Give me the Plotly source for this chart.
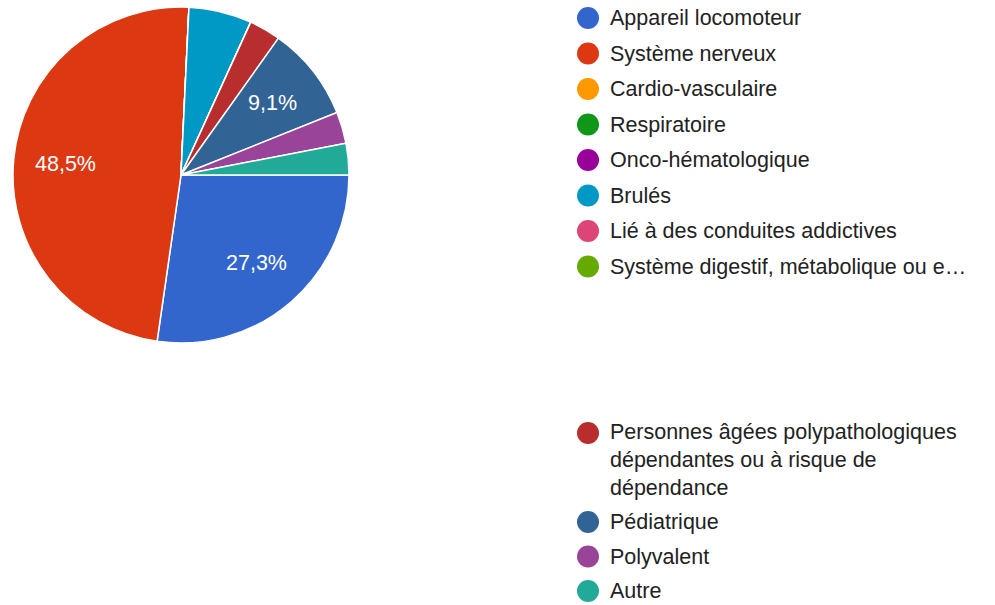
import math
import plotly.graph_objects as go

# ---- data ----
categories = [
    "Appareil locomoteur",
    "Système nerveux",
    "Cardio-vasculaire",
    "Respiratoire",
    "Onco-hématologique",
    "Brulés",
    "Lié à des conduites addictives",
    "Système digestif, métabolique ou e…",
    "Personnes âgées polypathologiques<br>dépendantes ou à risque de<br>dépendance",
    "Pédiatrique",
    "Polyvalent",
    "Autre",
]
counts = [9, 16, 0, 0, 0, 2, 0, 0, 1, 3, 1, 1]
colors = ["#3366cc", "#dc3912", "#ff9900", "#109618", "#990099", "#0099c6",
          "#dd4477", "#66aa00", "#b82e2e", "#316395", "#994499", "#22aa99"]

W, H = 995, 605
total = sum(counts)

FONT = "Liberation Sans, Arial, sans-serif"

# pie geometry (pixels)
cx, cy, r = 181, 175, 168
start_deg = 90  # first slice starts at 3 o'clock, clockwise

fig = go.Figure()
fig.add_trace(go.Pie(
    labels=[c.replace("<br>", " ") for c in categories],
    values=counts,
    marker=dict(colors=colors, line=dict(color="white", width=1.5)),
    sort=False,
    direction="clockwise",
    rotation=start_deg,
    textinfo="none",
    showlegend=False,
    hoverinfo="label+percent",
    domain=dict(x=[(cx - r) / W, (cx + r) / W], y=[1 - (cy + r) / H, 1 - (cy - r) / H]),
))

# slice percentage labels (only for slices wide enough, as in the reference)
acc = 0.0
for c in counts:
    frac = c / total
    if frac > 0.08:
        mid = math.radians(start_deg + 360 * (acc + frac / 2))
        rr = 0.69 * r
        fig.add_annotation(
            x=cx + rr * math.sin(mid), y=cy - rr * math.cos(mid),
            xref="x", yref="y", showarrow=False,
            text=f"{100 * frac:.1f}%".replace(".", ","),
            xanchor="center", yanchor="middle",
            font=dict(family=FONT, size=21.5, color="white"),
        )
    acc += frac

# custom legend (two groups, as in the reference)
legend_y = [18, 53.5, 89, 124.5, 160, 195.5, 231, 266.5, 433, 522, 556.5, 591]
marker_x = 588
text_x = 608

fig.add_trace(go.Scatter(
    x=[marker_x] * len(categories), y=legend_y,
    mode="markers",
    marker=dict(size=22, color=colors, line=dict(width=0)),
    hoverinfo="skip", showlegend=False,
    xaxis="x", yaxis="y",
))

for lab, yy in zip(categories, legend_y):
    multiline = "<br>" in lab
    fig.add_annotation(
        x=text_x, y=(yy - 15 if multiline else yy), xref="x", yref="y",
        text=lab, showarrow=False,
        xanchor="left", yanchor=("top" if multiline else "middle"),
        align="left",
        font=dict(family=FONT, size=21.5, color="#222222"),
    )

fig.update_layout(
    width=W, height=H,
    margin=dict(l=0, r=0, t=0, b=0),
    paper_bgcolor="white", plot_bgcolor="white",
    xaxis=dict(range=[0, W], visible=False, domain=[0, 1], fixedrange=True),
    yaxis=dict(range=[H, 0], visible=False, domain=[0, 1], fixedrange=True),
    showlegend=False,
)

fig.write_html("out.html", config={"displayModeBar": False},
               post_script="document.body.style.margin='0';")
